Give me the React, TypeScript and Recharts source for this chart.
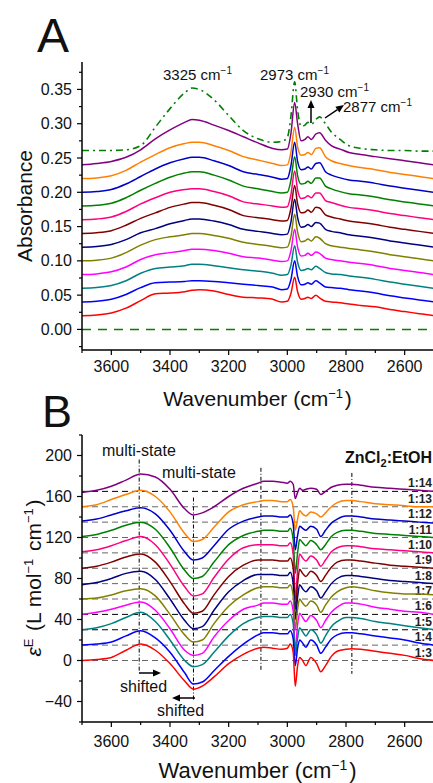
import React from "react";
import { LineChart, Line, XAxis, YAxis, ReferenceLine } from "recharts";

// ---- panel A: absorbance, offset spectra ----
const WA = [3700, 3650, 3600, 3550, 3500, 3450, 3400, 3350, 3325, 3300, 3250, 3200, 3150, 3100, 3050, 3020, 3000, 2988, 2975, 2965, 2953, 2940, 2930, 2918, 2903, 2890, 2870, 2850, 2820, 2790, 2750, 2700, 2650, 2600, 2550, 2500];

const absR3 = [0.020, 0.021, 0.024, 0.031, 0.042, 0.052, 0.053, 0.055, 0.057, 0.058, 0.056, 0.051, 0.047, 0.046, 0.044, 0.040, 0.041, 0.052, 0.076, 0.055, 0.044, 0.045, 0.047, 0.045, 0.050, 0.046, 0.041, 0.040, 0.039, 0.037, 0.035, 0.033, 0.029, 0.026, 0.023, 0.020];
const absR4 = [0.040, 0.041, 0.044, 0.051, 0.061, 0.068, 0.069, 0.070, 0.071, 0.071, 0.070, 0.068, 0.066, 0.064, 0.062, 0.058, 0.059, 0.072, 0.100, 0.077, 0.065, 0.066, 0.068, 0.066, 0.071, 0.068, 0.062, 0.061, 0.060, 0.058, 0.056, 0.053, 0.049, 0.046, 0.043, 0.040];
const absR5 = [0.060, 0.061, 0.064, 0.071, 0.082, 0.089, 0.091, 0.093, 0.095, 0.095, 0.093, 0.090, 0.087, 0.085, 0.082, 0.079, 0.080, 0.093, 0.122, 0.098, 0.086, 0.087, 0.089, 0.087, 0.092, 0.089, 0.083, 0.081, 0.080, 0.078, 0.076, 0.073, 0.069, 0.066, 0.063, 0.060];
const absR6 = [0.080, 0.081, 0.084, 0.091, 0.102, 0.109, 0.112, 0.115, 0.117, 0.117, 0.115, 0.111, 0.106, 0.104, 0.101, 0.099, 0.100, 0.114, 0.146, 0.120, 0.107, 0.108, 0.111, 0.108, 0.113, 0.111, 0.104, 0.102, 0.100, 0.098, 0.096, 0.093, 0.089, 0.086, 0.083, 0.080];
const absR7 = [0.100, 0.101, 0.104, 0.112, 0.123, 0.131, 0.135, 0.138, 0.140, 0.140, 0.137, 0.133, 0.127, 0.124, 0.121, 0.119, 0.120, 0.135, 0.168, 0.142, 0.128, 0.129, 0.132, 0.129, 0.135, 0.133, 0.125, 0.122, 0.120, 0.118, 0.116, 0.113, 0.109, 0.106, 0.103, 0.100];
const absR8 = [0.120, 0.121, 0.124, 0.131, 0.141, 0.147, 0.154, 0.159, 0.161, 0.161, 0.158, 0.153, 0.146, 0.143, 0.140, 0.138, 0.139, 0.156, 0.190, 0.163, 0.149, 0.150, 0.153, 0.150, 0.156, 0.155, 0.146, 0.143, 0.141, 0.138, 0.136, 0.133, 0.129, 0.126, 0.123, 0.120];
const absR9 = [0.140, 0.141, 0.144, 0.152, 0.162, 0.170, 0.178, 0.183, 0.185, 0.185, 0.181, 0.175, 0.166, 0.163, 0.160, 0.158, 0.159, 0.176, 0.210, 0.183, 0.170, 0.171, 0.174, 0.171, 0.178, 0.177, 0.167, 0.164, 0.161, 0.158, 0.156, 0.153, 0.149, 0.146, 0.143, 0.140];
const absR10 = [0.160, 0.161, 0.164, 0.172, 0.183, 0.192, 0.200, 0.204, 0.205, 0.205, 0.201, 0.195, 0.186, 0.183, 0.180, 0.178, 0.179, 0.196, 0.231, 0.203, 0.191, 0.192, 0.195, 0.192, 0.199, 0.199, 0.188, 0.185, 0.181, 0.178, 0.176, 0.173, 0.169, 0.166, 0.163, 0.160];
const absR11 = [0.180, 0.181, 0.184, 0.192, 0.203, 0.213, 0.222, 0.228, 0.230, 0.230, 0.225, 0.218, 0.209, 0.205, 0.201, 0.199, 0.200, 0.217, 0.252, 0.224, 0.212, 0.213, 0.216, 0.213, 0.221, 0.221, 0.209, 0.205, 0.201, 0.198, 0.196, 0.193, 0.189, 0.186, 0.183, 0.180];
const absR12 = [0.200, 0.201, 0.204, 0.212, 0.223, 0.234, 0.243, 0.249, 0.251, 0.251, 0.246, 0.239, 0.230, 0.226, 0.222, 0.219, 0.220, 0.238, 0.273, 0.245, 0.233, 0.234, 0.237, 0.234, 0.242, 0.243, 0.230, 0.225, 0.221, 0.218, 0.216, 0.213, 0.209, 0.206, 0.203, 0.200];
const absR13 = [0.220, 0.221, 0.224, 0.232, 0.244, 0.255, 0.265, 0.271, 0.273, 0.273, 0.268, 0.261, 0.252, 0.247, 0.242, 0.239, 0.240, 0.258, 0.295, 0.266, 0.254, 0.255, 0.258, 0.255, 0.264, 0.265, 0.252, 0.246, 0.242, 0.239, 0.236, 0.233, 0.229, 0.226, 0.223, 0.220];
const absR14 = [0.240, 0.242, 0.245, 0.251, 0.262, 0.278, 0.291, 0.302, 0.306, 0.305, 0.298, 0.290, 0.281, 0.272, 0.264, 0.262, 0.263, 0.285, 0.331, 0.300, 0.275, 0.277, 0.281, 0.277, 0.285, 0.287, 0.276, 0.268, 0.263, 0.258, 0.255, 0.252, 0.249, 0.246, 0.243, 0.240];
const absEtOH = [0.261, 0.261, 0.261, 0.262, 0.268, 0.295, 0.322, 0.345, 0.352, 0.350, 0.335, 0.312, 0.290, 0.278, 0.273, 0.274, 0.280, 0.310, 0.361, 0.320, 0.296, 0.298, 0.302, 0.299, 0.306, 0.310, 0.300, 0.288, 0.277, 0.268, 0.264, 0.262, 0.261, 0.261, 0.260, 0.260];

// ---- panel B: excess molar absorptivity ----
const WB = [3700, 3650, 3600, 3550, 3500, 3450, 3400, 3350, 3320, 3290, 3250, 3200, 3150, 3100, 3080, 3050, 3020, 3000, 2990, 2980, 2973, 2965, 2958, 2948, 2937, 2920, 2900, 2886, 2870, 2850, 2830, 2800, 2780, 2750, 2700, 2650, 2600, 2550, 2500];

const epsR3 = [0, 1, 3, 10, 16, 10, -3, -20, -28, -25, -16, -3, 6, 12, 13, 12, 11, 12, 16, 8, -25, -5, 3, 0, -5, 3, -3, -11, -5, 4, 9, 11, 11.5, 11, 9, 7, 5, 2, 0];
const epsR4 = [15, 16, 18, 24, 29, 22, 8, -12, -23, -21, -10, 4, 16, 25, 27, 27, 26, 26, 29, 21, -5, 12, 20, 17, 13, 20, 15, 7, 13, 21, 25, 27, 27, 26, 24, 22, 20, 17, 15];
const epsR5 = [30, 32, 36, 42, 47, 38, 20, 0, -6, -4, 8, 24, 36, 42, 43, 43, 42, 42, 45, 36, 5, 22, 32, 28, 24, 30, 25, 17, 24, 33, 38, 42, 42, 41, 38, 36, 34, 32, 30];
const epsR6 = [45, 47, 50, 54, 57, 49, 31, 10, 5, 7, 23, 39, 50, 54, 56, 56, 55, 55, 58, 48, 10, 35, 46, 42, 38, 44, 39, 32, 39, 47, 52, 56, 56, 55, 52, 50, 48, 47, 45];
const epsR7 = [60, 61, 64, 68, 70, 63, 45, 25, 18, 20, 36, 53, 64, 71, 72, 72, 71, 71, 74, 63, 30, 50, 60, 56, 53, 58, 54, 47, 54, 62, 67, 71, 72, 71, 68, 66, 65, 65, 64];
const epsR8 = [74, 76, 80, 85, 87, 79, 60, 39, 31, 33, 49, 67, 78, 84, 84, 84, 83, 83, 86, 75, 40, 62, 74, 70, 67, 72, 68, 61, 67, 75, 80, 83, 83, 82, 80, 78, 77, 76, 75];
const epsR9 = [90, 92, 96, 101, 104, 96, 77, 55, 46, 48, 64, 82, 93, 98, 98, 98, 97, 97, 100, 90, 50, 75, 89, 85, 82, 87, 83, 77, 83, 91, 96, 98, 98, 97, 95, 93, 92, 91, 90];
const epsR10 = [106, 108, 112, 117, 121, 113, 94, 72, 63, 65, 81, 99, 110, 113, 113, 113, 112, 112, 115, 104, 60, 88, 104, 100, 97, 102, 98, 92, 98, 106, 110, 112, 112, 111, 109, 108, 107, 106, 105];
const epsR11 = [121, 123, 127, 132, 135, 128, 110, 88, 80, 82, 96, 113, 122, 126, 127, 127, 126, 126, 129, 118, 85, 105, 118, 115, 112, 117, 113, 108, 113, 121, 125, 127, 127, 126, 124, 123, 122, 121, 120];
const epsR12 = [136, 138, 142, 146, 149, 143, 127, 106, 98, 100, 112, 128, 136, 140, 141, 141, 140, 140, 142, 133, 108, 122, 131, 129, 127, 131, 128, 121, 127, 134, 138, 141, 141, 140, 138, 137, 136, 135, 134];
const epsR13 = [150, 152, 157, 162, 166, 160, 145, 124, 116, 118, 130, 145, 152, 155, 156, 156, 155, 155, 157, 150, 127, 138, 146, 143, 141, 145, 143, 140, 144, 150, 154, 156, 156, 155, 153, 152, 151, 150, 150];
const epsR14 = [164, 166, 170, 176, 182, 179, 167, 148, 142, 144, 150, 160, 168, 173, 175, 175, 174, 173, 175, 172, 158, 164, 168, 166, 167, 168, 167, 162, 165, 169, 171, 172, 172, 171, 169, 168, 167, 166, 165];

const RATIOS = ["1:3", "1:4", "1:5", "1:6", "1:7", "1:8", "1:9", "1:10", "1:11", "1:12", "1:13", "1:14"];
const BASELINES_B = [0, 15, 30, 45, 60, 75, 90, 105, 120, 135, 150, 165];
const COLORS = ["#ff0000", "#0000ff", "#008080", "#ff00ff", "#808000", "#000080", "#800000", "#ff0080", "#008000", "#0000cc", "#ff8000", "#800080"];

const X_TICKS = [2500, 2600, 2700, 2800, 2900, 3000, 3100, 3200, 3300, 3400, 3500, 3600, 3700];
const Y_TICKS_A = [-0.025, 0, 0.025, 0.05, 0.075, 0.1, 0.125, 0.15, 0.175, 0.2, 0.225, 0.25, 0.275, 0.3, 0.325, 0.35, 0.375];
const Y_TICKS_B = [-60, -40, -20, 0, 20, 40, 60, 80, 100, 120, 140, 160, 180, 200, 220];

const SERIES_A = [absR3, absR4, absR5, absR6, absR7, absR8, absR9, absR10, absR11, absR12, absR13, absR14];
const SERIES_B = [epsR3, epsR4, epsR5, epsR6, epsR7, epsR8, epsR9, epsR10, epsR11, epsR12, epsR13, epsR14];

const dataA = WA.map((w, i) => {
  const row: any = { w, etoh: absEtOH[i] };
  SERIES_A.forEach((s, k) => (row["s" + k] = s[i]));
  return row;
});
const dataB = WB.map((w, i) => {
  const row: any = { w };
  SERIES_B.forEach((s, k) => (row["s" + k] = s[i]));
  return row;
});

// dotted guide lines in panel B
const GUIDES_B = [
  { w: 3505, top: 196, bottom: -12 },
  { w: 3320, top: 159, bottom: -40 },
  { w: 3090, top: 188, bottom: -10 },
  { w: 2780, top: 183, bottom: -13 },
];

const FONT = "'Liberation Sans', Arial, Helvetica, sans-serif";
const AXIS = { stroke: "#000", strokeWidth: 1.5 };

const XTick = (props: any) => {
  const { x, y, payload, gap } = props;
  const v = Number(payload.value);
  const major = v % 200 === 0;
  return (
    <g>
      <line x1={x} x2={x} y1={y} y2={y + (major ? 5 : 3)} stroke="#000" strokeWidth={1.2} />
      {major ? (
        <text x={x} y={y + gap} textAnchor="middle" fontSize={16} fill="#111" fontFamily={FONT}>
          {v}
        </text>
      ) : null}
    </g>
  );
};

const YTickA = (props: any) => {
  const { x, y, payload } = props;
  const k = Math.round(Number(payload.value) * 1000);
  const major = k % 50 === 0;
  return (
    <g>
      <line x1={x} x2={x - (major ? 5 : 3)} y1={y} y2={y} stroke="#000" strokeWidth={1.2} />
      {major && k >= 0 && k <= 350 ? (
        <text x={x - 10} y={y + 5.5} textAnchor="end" fontSize={16} fill="#111" fontFamily={FONT}>
          {(k / 1000).toFixed(2)}
        </text>
      ) : null}
    </g>
  );
};

const YTickB = (props: any) => {
  const { x, y, payload } = props;
  const v = Number(payload.value);
  const major = v % 40 === 0;
  return (
    <g>
      <line x1={x} x2={x - (major ? 5 : 3)} y1={y} y2={y} stroke="#000" strokeWidth={1.2} />
      {major && v >= -40 && v <= 200 ? (
        <text x={x - 10} y={y + 5.5} textAnchor="end" fontSize={16} fill="#111" fontFamily={FONT}>
          {v < 0 ? "\u2212" + Math.abs(v) : v}
        </text>
      ) : null}
    </g>
  );
};

const RatioLabel = (props: any) => {
  const vb = props.viewBox || { x: 0, y: 0, width: 0 };
  return (
    <text x={vb.x + vb.width - 2} y={vb.y - 4} textAnchor="end" fontSize={12} fontWeight="bold" fill="#222" fontFamily={FONT}>
      {props.text}
    </text>
  );
};

const Arrow = ({ x1, y1, x2, y2 }: { x1: number; y1: number; x2: number; y2: number }) => {
  const a = Math.atan2(y2 - y1, x2 - x1);
  const len = 8;
  const half = 3.5;
  const bx = x2 - len * Math.cos(a);
  const by = y2 - len * Math.sin(a);
  const px = -Math.sin(a) * half;
  const py = Math.cos(a) * half;
  return (
    <g>
      <line x1={x1} y1={y1} x2={bx} y2={by} stroke="#000" strokeWidth={1.5} />
      <polygon points={`${x2},${y2} ${bx + px},${by + py} ${bx - px},${by - py}`} fill="#000" />
    </g>
  );
};

const Sup = ({ children, size = 10, dy = -6 }: any) => (
  <>
    <tspan dy={dy} fontSize={size}>{children}</tspan>
    <tspan dy={-dy}>{"\u200a"}</tspan>
  </>
);

export default function App() {
  return (
    <div style={{ position: "fixed", left: 0, top: 0, width: 433, height: 783, overflow: "hidden", background: "#fff", fontFamily: FONT }}>
      <div style={{ position: "absolute", left: 0, top: 0 }}>
        <LineChart width={440} height={380} data={dataA} margin={{ top: 62, right: 6, bottom: 0, left: 0 }}>
          <XAxis dataKey="w" type="number" domain={[2500, 3700]} reversed ticks={X_TICKS} interval={0}
            tickSize={0} tickMargin={0} tickLine={false} axisLine={AXIS} height={30} allowDataOverflow
            tick={<XTick gap={22} />} />
          <XAxis xAxisId="top" orientation="top" type="number" domain={[2500, 3700]} reversed height={0}
            tick={false} tickLine={false} axisLine={AXIS} />
          <YAxis type="number" domain={[-0.03, 0.39]} ticks={Y_TICKS_A} interval={0} width={82} allowDataOverflow
            tickSize={0} tickMargin={0} tickLine={false} axisLine={AXIS} tick={<YTickA />} />
          <ReferenceLine y={0} stroke="#008000" strokeWidth={1.5} strokeDasharray="9 7" />
          <Line dataKey="etoh" stroke="#008000" strokeWidth={1.6} strokeDasharray="7 4 2 4" dot={false} type="monotone" isAnimationActive={false} />
          {SERIES_A.map((_, k) => {
            const j = SERIES_A.length - 1 - k;
            return (
              <Line key={j} dataKey={"s" + j} stroke={COLORS[j]} strokeWidth={1.5} dot={false} type="monotone" isAnimationActive={false} />
            );
          })}
        </LineChart>
      </div>

      <div style={{ position: "absolute", left: 0, top: 400 }}>
        <LineChart width={440} height={360} data={dataB} margin={{ top: 35, right: 6, bottom: 0, left: 0 }}>
          <XAxis dataKey="w" type="number" domain={[2500, 3700]} reversed ticks={X_TICKS} interval={0}
            tickSize={0} tickMargin={0} tickLine={false} axisLine={AXIS} height={38} allowDataOverflow
            tick={<XTick gap={25} />} />
          <XAxis xAxisId="top" orientation="top" type="number" domain={[2500, 3700]} reversed height={0}
            tick={false} tickLine={false} axisLine={AXIS} />
          <YAxis type="number" domain={[-60, 220]} ticks={Y_TICKS_B} interval={0} width={82} allowDataOverflow
            tickSize={0} tickMargin={0} tickLine={false} axisLine={AXIS} tick={<YTickB />} />
          {BASELINES_B.map((b, k) => (
            <ReferenceLine key={"h" + k} y={b} stroke={k === 11 || k === 3 || k === 2 ? "#000" : "#666"} strokeWidth={1}
              strokeDasharray="6 4" label={<RatioLabel text={RATIOS[k]} />} />
          ))}
          {GUIDES_B.map((g, k) => (
            <ReferenceLine key={"v" + k} segment={[{ x: g.w, y: g.top }, { x: g.w, y: g.bottom }]} stroke="#000"
              strokeWidth={1} strokeDasharray="4 2 1 2" />
          ))}
          {SERIES_B.map((_, k) => {
            const j = SERIES_B.length - 1 - k;
            return (
              <Line key={j} dataKey={"s" + j} stroke={COLORS[j]} strokeWidth={1.5} dot={false} type="monotone" isAnimationActive={false} />
            );
          })}
        </LineChart>
      </div>

      <svg width={433} height={783} style={{ position: "absolute", left: 0, top: 0, pointerEvents: "none" }} fontFamily={FONT} fill="#111">
        <text x={37} y={52} fontSize={48}>A</text>
        <text x={42} y={427} fontSize={45}>B</text>

        <text transform="translate(32,206) rotate(-90)" textAnchor="middle" fontSize={21}>Absorbance</text>
        <text x={257.5} y={406} textAnchor="middle" fontSize={21}>
          Wavenumber (cm<Sup size={13} dy={-8}>{"\u22121"}</Sup>)
        </text>
        <text x={257.5} y={778} textAnchor="middle" fontSize={22}>
          Wavenumber (cm<Sup size={14} dy={-8}>{"\u22121"}</Sup>)
        </text>
        <text transform="translate(41,578) rotate(-90)" textAnchor="middle" fontSize={21}>
          <tspan fontStyle="italic">ε</tspan>
          <Sup size={13} dy={-8}>E</Sup> (L mol<Sup size={13} dy={-8}>{"\u22121"}</Sup> cm<Sup size={13} dy={-8}>{"\u22121"}</Sup>)
        </text>

        <text x={163} y={80} fontSize={15}>3325 cm<Sup>{"\u22121"}</Sup></text>
        <text x={260} y={80} fontSize={15}>2973 cm<Sup>{"\u22121"}</Sup></text>
        <text x={300} y={97} fontSize={15}>2930 cm<Sup>{"\u22121"}</Sup></text>
        <text x={343} y={112} fontSize={15}>2877 cm<Sup>{"\u22121"}</Sup></text>
        <Arrow x1={311} y1={123} x2={311} y2={100} />
        <Arrow x1={325} y1={118} x2={344} y2={105} />

        <text x={102} y={456} fontSize={16}>multi-state</text>
        <text x={162} y={478} fontSize={16}>multi-state</text>
        <text x={432} y={463} textAnchor="end" fontSize={16} fontWeight="bold">
          ZnCl<tspan dy={4} fontSize={11}>2</tspan><tspan dy={-4}>:EtOH</tspan>
        </text>
        <Arrow x1={139} y1={673} x2={161} y2={673} />
        <text x={120} y={692} fontSize={16}>shifted</text>
        <Arrow x1={195} y1={698} x2={172} y2={698} />
        <text x={157} y={716} fontSize={16}>shifted</text>
      </svg>
    </div>
  );
}
